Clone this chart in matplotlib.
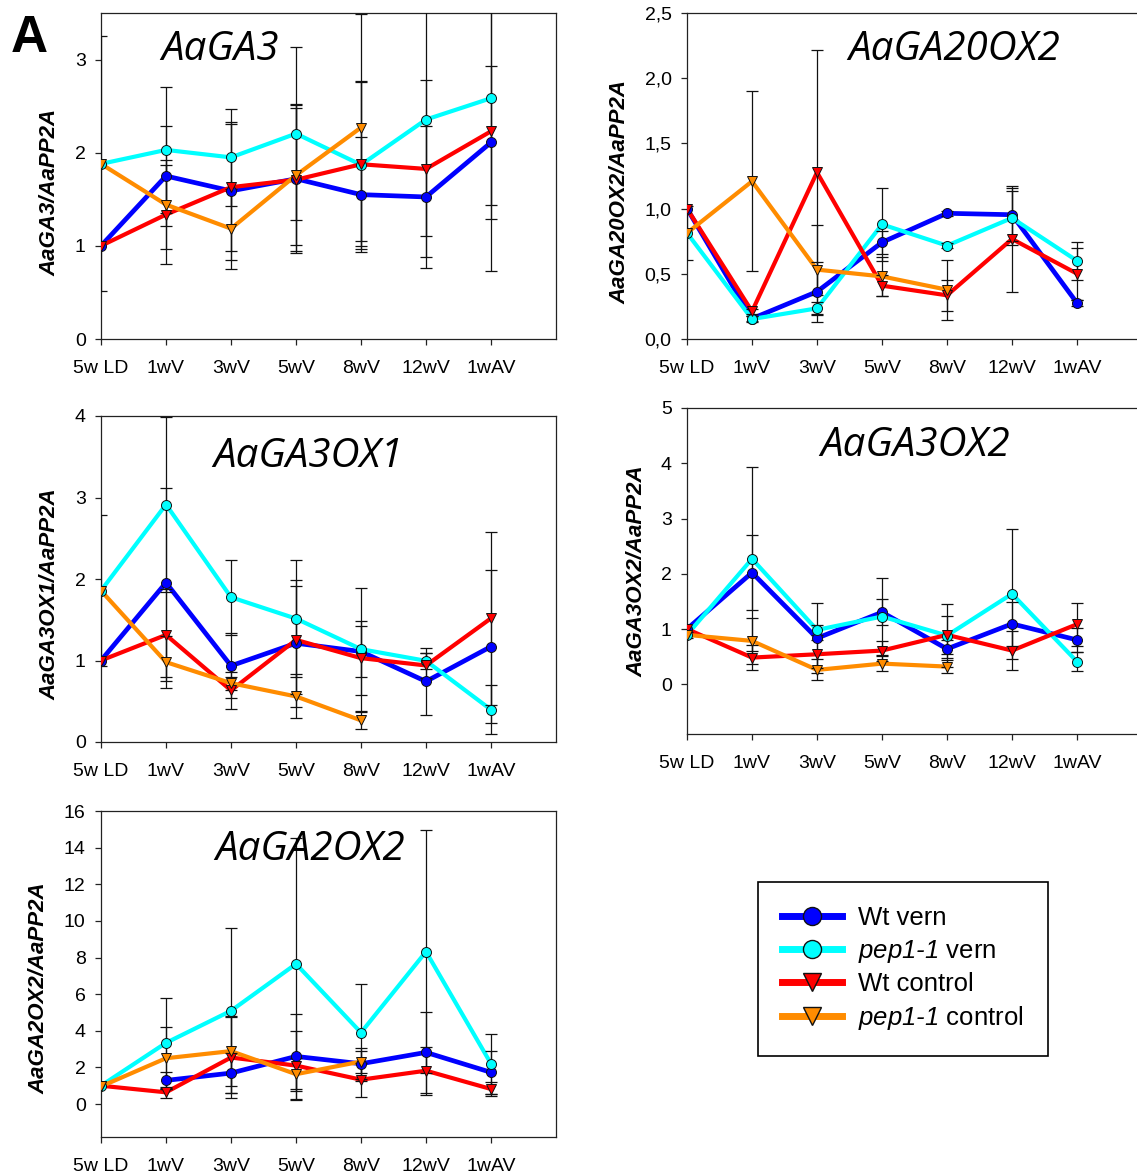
import numpy as np
import matplotlib
matplotlib.use("Agg")
import matplotlib.pyplot as plt
from matplotlib.lines import Line2D
from matplotlib.ticker import FixedLocator, FuncFormatter

plt.rcParams["font.family"] = ["Liberation Sans", "DejaVu Sans"]
plt.rcParams["mathtext.fontset"] = "custom"
plt.rcParams["mathtext.it"] = "Liberation Sans:italic"
plt.rcParams["mathtext.rm"] = "Liberation Sans:italic"

nan = np.nan

# ---- time points ----
categories = ["5w LD", "1wV", "3wV", "5wV", "8wV", "12wV", "1wAV"]

# ---- AaGA3 ----
ga3_wt_vern = [1.0, 1.75, 1.59, 1.72, 1.55, 1.525, 2.11]
ga3_wt_vern_err = [0, 0.54, 0.74, 0.80, 0.62, 0.76, 0.82]
ga3_pep_vern = [1.88, 2.03, 1.95, 2.205, 1.87, 2.356, 2.585]
ga3_pep_vern_err = [1.37, 0.68, 0.52, 0.93, 0.905, 1.25, 1.15]
ga3_wt_ctrl = [1.0, 1.336, 1.63, 1.71, 1.876, 1.826, 2.23]
ga3_wt_ctrl_err = [0, 0.53, 0.68, 0.77, 0.88, 0.95, 1.5]
ga3_pep_ctrl = [1.88, 1.443, 1.185, 1.758, 2.27, nan, nan]
ga3_pep_ctrl_err = [0, 0.48, 0.43, 0.75, 1.215, nan, nan]

# ---- AaGA20OX2 ----
ga20_wt_vern = [1.0, 0.156, 0.363, 0.741, 0.964, 0.953, 0.276]
ga20_wt_vern_err = [0, 0.02, 0.23, 0.09, 0.02, 0.205, 0.02]
ga20_pep_vern = [0.813, 0.153, 0.235, 0.879, 0.716, 0.928, 0.60]
ga20_pep_vern_err = [0.21, 0.02, 0.05, 0.28, 0.02, 0.21, 0.144]
ga20_wt_ctrl = [1.0, 0.212, 1.278, 0.409, 0.335, 0.767, 0.501]
ga20_wt_ctrl_err = [0, 0.02, 0.94, 0.08, 0.12, 0.41, 0.2]
ga20_pep_ctrl = [0.813, 1.209, 0.532, 0.48, 0.378, nan, nan]
ga20_pep_ctrl_err = [0, 0.69, 0.34, 0.15, 0.23, nan, nan]

# ---- AaGA3OX1 ----
ga3ox1_wt_vern = [1.0, 1.955, 0.935, 1.212, 1.11, 0.743, 1.171]
ga3ox1_wt_vern_err = [0, 1.16, 0.40, 0.78, 0.31, 0.41, 0.94]
ga3ox1_pep_vern = [1.857, 2.914, 1.776, 1.514, 1.139, 0.996, 0.396]
ga3ox1_pep_vern_err = [0.93, 1.07, 0.46, 0.72, 0.755, 0.10, 0.30]
ga3ox1_wt_ctrl = [1.0, 1.314, 0.633, 1.253, 1.029, 0.939, 1.518]
ga3ox1_wt_ctrl_err = [0, 0.56, 0.225, 0.66, 0.45, 0.15, 1.06]
ga3ox1_pep_ctrl = [1.857, 0.98, 0.722, 0.559, 0.265, nan, nan]
ga3ox1_pep_ctrl_err = [0, 0.32, 0.08, 0.27, 0.1, nan, nan]

# ---- AaGA3OX2 ----
ga3ox2_wt_vern = [1.0, 2.02, 0.833, 1.304, 0.64, 1.093, 0.803]
ga3ox2_wt_vern_err = [0, 0.68, 0.63, 0.24, 0.17, 0.40, 0.21]
ga3ox2_pep_vern = [0.894, 2.27, 0.984, 1.226, 0.882, 1.636, 0.41]
ga3ox2_pep_vern_err = [0.05, 1.67, 0.09, 0.69, 0.57, 1.17, 0.17]
ga3ox2_wt_ctrl = [1.0, 0.483, 0.543, 0.61, 0.894, 0.61, 1.087]
ga3ox2_wt_ctrl_err = [0, 0.22, 0.25, 0.18, 0.35, 0.36, 0.39]
ga3ox2_pep_ctrl = [0.894, 0.785, 0.26, 0.374, 0.32, nan, nan]
ga3ox2_pep_ctrl_err = [0, 0.42, 0.19, 0.13, 0.12, nan, nan]

# ---- AaGA2OX2 ----
ga2_wt_vern = [nan, 1.29, 1.69, 2.6, 2.2, 2.82, 1.73]
ga2_wt_vern_err = [nan, 0.45, 1.1, 2.32, 0.85, 2.23, 1.17]
ga2_pep_vern = [1.0, 3.34, 5.09, 7.65, 3.9, 8.32, 2.2]
ga2_pep_vern_err = [0, 2.44, 4.5, 6.85, 2.64, 6.63, 1.63]
ga2_wt_ctrl = [1.0, 0.64, 2.54, 2.1, 1.33, 1.82, 0.82]
ga2_wt_ctrl_err = [0, 0.3, 2.2, 1.9, 0.92, 1.3, 0.4]
ga2_pep_ctrl = [0.96, 2.5, 2.89, 1.63, 2.32, nan, nan]
ga2_pep_ctrl_err = [0, 1.7, 1.89, 0.9, 0.6, nan, nan]

series_labels = ["Wt vern", r"$pep1\text{-}1$ vern",
                 "Wt control", r"$pep1\text{-}1$ control"]
series_colors = ["#0000ff", "#00ffff", "#ff0000", "#ff8c00"]
series_markers = ["o", "o", "v", "v"]
series_lw = [3.4, 3.0, 3.0, 3.0]

W, H = 1137, 1173
fig = plt.figure(figsize=(W / 100, H / 100), dpi=100)


def add_panel(l, r, t, b):
    return fig.add_axes([l / W, 1 - b / H, (r - l) / W, (b - t) / H])


def fxy(px, py):
    return px / W, 1 - py / H


panels = [
    dict(box=(101, 556, 13, 339), ylim=(0, 3.5), yticks=[0, 1, 2, 3], comma=False,
         title="AaGA3", tpos=(220, 50), ylabel="AaGA3/AaPP2A", lpos=(50, 192),
         data=[(ga3_wt_vern, ga3_wt_vern_err), (ga3_pep_vern, ga3_pep_vern_err),
               (ga3_wt_ctrl, ga3_wt_ctrl_err), (ga3_pep_ctrl, ga3_pep_ctrl_err)]),
    dict(box=(687, 1142, 13, 339), ylim=(0, 2.5), yticks=[0, 0.5, 1, 1.5, 2, 2.5], comma=True,
         title="AaGA20OX2", tpos=(954, 50), ylabel="AaGA20OX2/AaPP2A", lpos=(620, 192),
         data=[(ga20_wt_vern, ga20_wt_vern_err), (ga20_pep_vern, ga20_pep_vern_err),
               (ga20_wt_ctrl, ga20_wt_ctrl_err), (ga20_pep_ctrl, ga20_pep_ctrl_err)]),
    dict(box=(101, 556, 416, 742), ylim=(0, 4), yticks=[0, 1, 2, 3, 4], comma=False,
         title="AaGA3OX1", tpos=(308, 457), ylabel="AaGA3OX1/AaPP2A", lpos=(50, 594),
         data=[(ga3ox1_wt_vern, ga3ox1_wt_vern_err), (ga3ox1_pep_vern, ga3ox1_pep_vern_err),
               (ga3ox1_wt_ctrl, ga3ox1_wt_ctrl_err), (ga3ox1_pep_ctrl, ga3ox1_pep_ctrl_err)]),
    dict(box=(687, 1142, 408, 734), ylim=(-0.9, 5), yticks=[0, 1, 2, 3, 4, 5], comma=False,
         title="AaGA3OX2", tpos=(915, 446), ylabel="AaGA3OX2/AaPP2A", lpos=(637, 571),
         data=[(ga3ox2_wt_vern, ga3ox2_wt_vern_err), (ga3ox2_pep_vern, ga3ox2_pep_vern_err),
               (ga3ox2_wt_ctrl, ga3ox2_wt_ctrl_err), (ga3ox2_pep_ctrl, ga3ox2_pep_ctrl_err)]),
    dict(box=(101, 556, 811, 1137), ylim=(-1.8, 16), yticks=list(range(0, 17, 2)), comma=False,
         title="AaGA2OX2", tpos=(310, 850), ylabel="AaGA2OX2/AaPP2A", lpos=(39, 988),
         data=[(ga2_wt_vern, ga2_wt_vern_err), (ga2_pep_vern, ga2_pep_vern_err),
               (ga2_wt_ctrl, ga2_wt_ctrl_err), (ga2_pep_ctrl, ga2_pep_ctrl_err)]),
]

x = np.arange(len(categories))

for p in panels:
    ax = add_panel(*p["box"])
    ax.set_xlim(0, 7)
    ax.set_ylim(*p["ylim"])
    for sp in ax.spines.values():
        sp.set_linewidth(0.9)
        sp.set_color("#222222")
    ax.xaxis.set_major_locator(FixedLocator(x))
    ax.set_xticklabels(categories)
    ax.yaxis.set_major_locator(FixedLocator(p["yticks"]))
    if p["comma"]:
        ax.yaxis.set_major_formatter(FuncFormatter(lambda v, pos: f"{v:.1f}".replace(".", ",")))
    else:
        ax.yaxis.set_major_formatter(FuncFormatter(lambda v, pos: f"{v:g}"))
    ax.tick_params(axis="both", direction="out", labelsize=14, width=0.9, color="#222222")
    ax.tick_params(axis="y", length=4, pad=7)
    ax.tick_params(axis="x", length=4, pad=11)

    for i, (vals, errs) in enumerate(p["data"]):
        vals = np.asarray(vals, dtype=float)
        errs = np.asarray(errs, dtype=float)
        c = series_colors[i]
        ax.plot(x, vals, color=c, lw=series_lw[i], zorder=2 + i * 0.01,
                solid_joinstyle="miter")
        has = np.isfinite(errs) & (errs > 0.001) & np.isfinite(vals)
        if has.any():
            ax.errorbar(x[has], vals[has], yerr=errs[has], fmt="none", ecolor="#111111",
                        elinewidth=0.9, capsize=4.5, capthick=0.9, zorder=3)
        ax.plot(x, vals, linestyle="none", marker=series_markers[i], ms=7.2 if i < 2 else 7.5,
                mfc=c, mec="#111111", mew=0.7, zorder=4 + i * 0.01)

    fig.text(*fxy(*p["tpos"]), p["title"], ha="center", va="center",
             fontsize=29, style="italic", family=["Open Sans", "DejaVu Sans"])
    fig.text(*fxy(*p["lpos"]), p["ylabel"], ha="center", va="center", rotation=90,
             fontsize=16, style="italic", weight="bold")

fig.text(*fxy(29, 38), "A", ha="center", va="center", fontsize=37, weight="bold")

handles = [Line2D([], [], color=series_colors[i], lw=5, marker=series_markers[i], ms=13,
                  mfc=series_colors[i], mec="#111111", mew=1.0) for i in range(4)]
leg = fig.legend(handles, series_labels, loc="upper left",
                 bbox_to_anchor=fxy(758, 882), bbox_transform=fig.transFigure,
                 frameon=True, fancybox=False, edgecolor="black", framealpha=1,
                 fontsize=18.5, handlelength=2.3, handletextpad=0.65,
                 labelspacing=0.29, borderpad=0.95, borderaxespad=0, numpoints=1)
leg.get_frame().set_linewidth(1.2)

fig.savefig("out.png", dpi=100)
